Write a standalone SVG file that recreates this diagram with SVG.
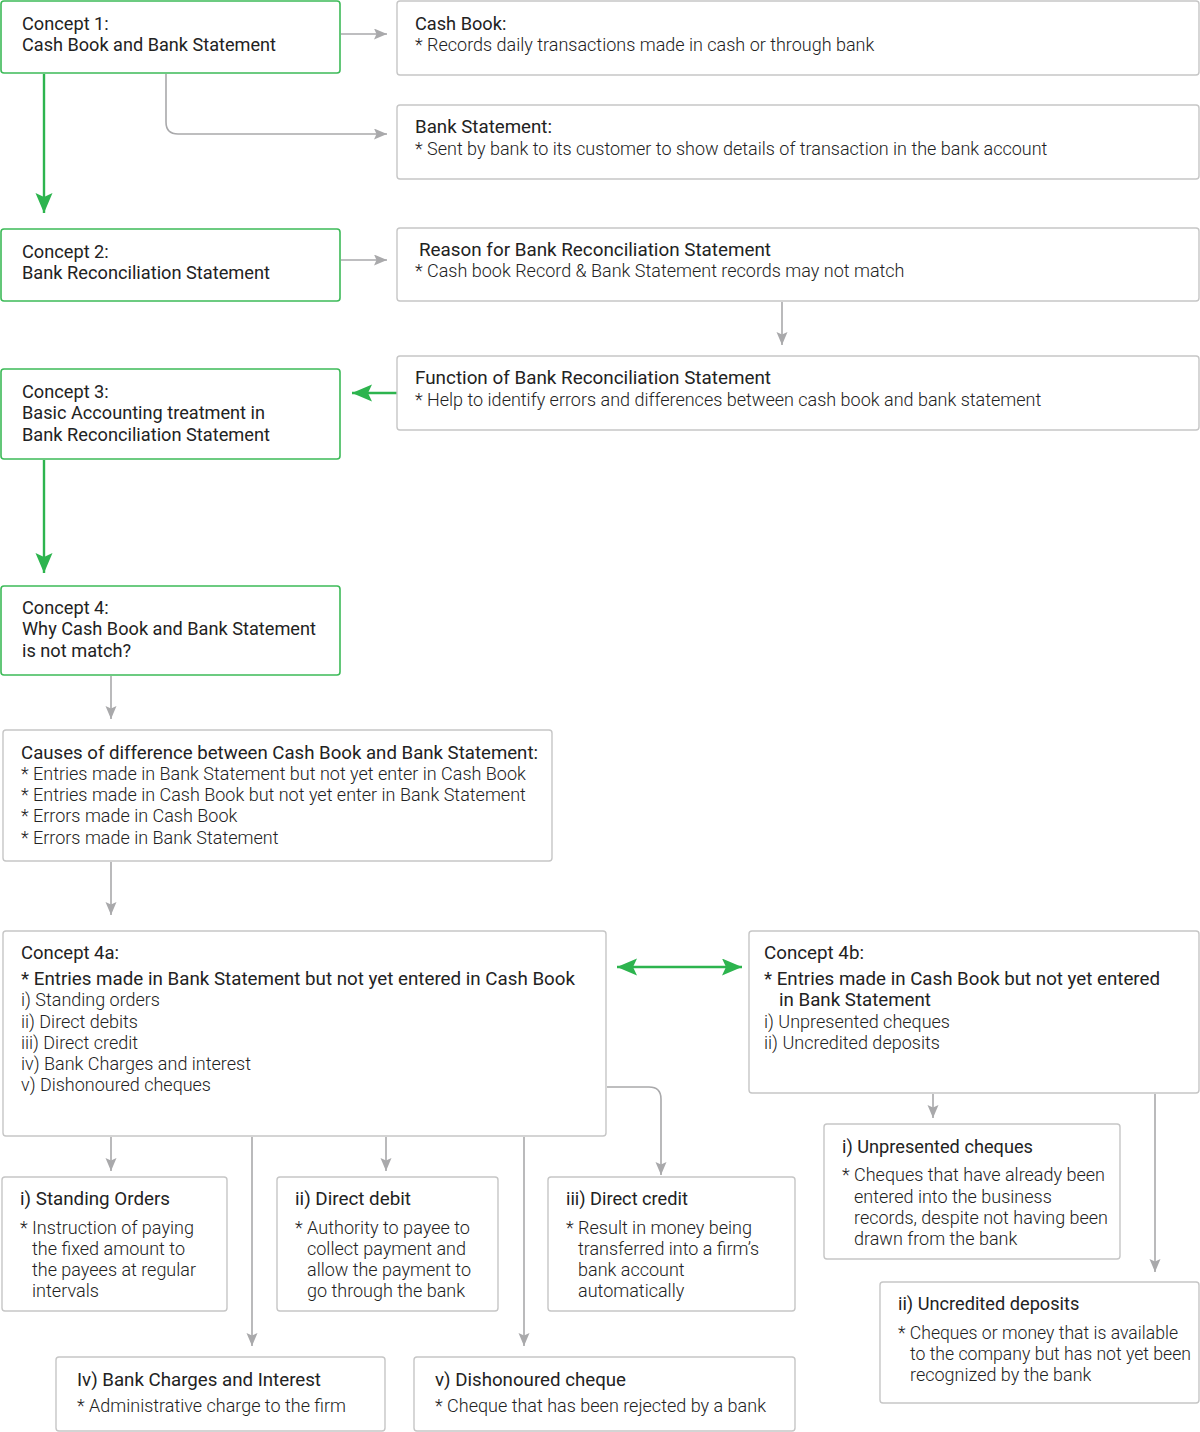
<svg xmlns="http://www.w3.org/2000/svg" width="1200" height="1432" viewBox="0 0 1200 1432">
<style>
text{font-family:Roboto,"Liberation Sans",sans-serif;font-size:18.2px;fill:#222}
.t2{font-size:18.8px}
.b{font-weight:300;font-size:18px}
.g{fill:#fff;stroke:#3dba58;stroke-width:1.6}
.n{fill:#fff;stroke:#c6c6c6;stroke-width:1.4}
.cg{fill:none;stroke:#a9a9ab;stroke-width:1.6}
.cn{fill:none;stroke:#2db44e;stroke-width:2.4}
</style>
<defs>
<marker id="ag" markerUnits="userSpaceOnUse" markerWidth="14" markerHeight="12" refX="13" refY="5.5" orient="auto" viewBox="0 0 14 12">
<path d="M0,0 L13,5.5 L0,11 L2.5,5.5 Z" fill="#a9a9ab"/>
</marker>
<marker id="an" markerUnits="userSpaceOnUse" markerWidth="21" markerHeight="18" refX="20" refY="8.5" orient="auto-start-reverse" viewBox="0 0 21 18">
<path d="M0,0 L20,8.5 L0,17 L4,8.5 Z" fill="#2db44e"/>
</marker>
</defs>

<g id="connectors">
<path class="cg" d="M341,34 H387" marker-end="url(#ag)"/>
<path class="cg" d="M166,74 V122 Q166,134 178,134 H387" marker-end="url(#ag)"/>
<path class="cn" d="M44,74 V213" marker-end="url(#an)"/>
<path class="cg" d="M341,260 H387" marker-end="url(#ag)"/>
<path class="cg" d="M782,302 V345" marker-end="url(#ag)"/>
<path class="cn" d="M397,393 H352" marker-end="url(#an)"/>
<path class="cn" d="M44,460 V573" marker-end="url(#an)"/>
<path class="cg" d="M111,676 V719" marker-end="url(#ag)"/>
<path class="cg" d="M111,862 V915" marker-end="url(#ag)"/>
<path class="cn" d="M617,967 H742" marker-start="url(#an)" marker-end="url(#an)"/>
<path class="cg" d="M111,1137 V1171" marker-end="url(#ag)"/>
<path class="cg" d="M252,1137 V1346" marker-end="url(#ag)"/>
<path class="cg" d="M386,1137 V1171" marker-end="url(#ag)"/>
<path class="cg" d="M524,1137 V1346" marker-end="url(#ag)"/>
<path class="cg" d="M607,1087 H649 Q661,1087 661,1099 V1175" marker-end="url(#ag)"/>
<path class="cg" d="M933,1094 V1118" marker-end="url(#ag)"/>
<path class="cg" d="M1155,1094 V1272" marker-end="url(#ag)"/>
</g>

<g id="concept1">
<rect class="g" x="1" y="1" width="339" height="72" rx="3"/>
<text x="22" y="30">Concept 1:</text>
<text x="22" y="51" textLength="254" lengthAdjust="spacingAndGlyphs">Cash Book and Bank Statement</text>
</g>
<g id="cashbook">
<rect class="n" x="397" y="1" width="802" height="74" rx="3"/>
<text x="415" y="30">Cash Book:</text>
<text class="b" x="415" y="51">* Records daily transactions made in cash or through bank</text>
</g>
<g id="bankstatement">
<rect class="n" x="397" y="105" width="802" height="74" rx="3"/>
<text x="415" y="133" textLength="137" lengthAdjust="spacingAndGlyphs">Bank Statement:</text>
<text class="b" x="415" y="155">* Sent by bank to its customer to show details of transaction in the bank account</text>
</g>
<g id="concept2">
<rect class="g" x="1" y="229" width="339" height="72" rx="3"/>
<text x="22" y="258">Concept 2:</text>
<text x="22" y="279" textLength="248" lengthAdjust="spacingAndGlyphs">Bank Reconciliation Statement</text>
</g>
<g id="reason">
<rect class="n" x="397" y="228" width="802" height="73" rx="3"/>
<text class="t2" x="419" y="256" textLength="352" lengthAdjust="spacingAndGlyphs">Reason for Bank Reconciliation Statement</text>
<text class="b" x="415" y="277">* Cash book Record &amp; Bank Statement records may not match</text>
</g>
<g id="function">
<rect class="n" x="397" y="356" width="802" height="74" rx="3"/>
<text class="t2" x="415" y="384" textLength="356" lengthAdjust="spacingAndGlyphs">Function of Bank Reconciliation Statement</text>
<text class="b" x="415" y="406">* Help to identify errors and differences between cash book and bank statement</text>
</g>
<g id="concept3">
<rect class="g" x="1" y="369" width="339" height="90" rx="3"/>
<text x="22" y="398">Concept 3:</text>
<text x="22" y="419" textLength="243" lengthAdjust="spacingAndGlyphs">Basic Accounting treatment in</text>
<text x="22" y="441" textLength="248" lengthAdjust="spacingAndGlyphs">Bank Reconciliation Statement</text>
</g>
<g id="concept4">
<rect class="g" x="1" y="586" width="339" height="89" rx="3"/>
<text x="22" y="614">Concept 4:</text>
<text x="22" y="635" textLength="294" lengthAdjust="spacingAndGlyphs">Why Cash Book and Bank Statement</text>
<text x="22" y="657">is not match?</text>
</g>
<g id="causes">
<rect class="n" x="3" y="730" width="549" height="131" rx="3"/>
<text x="21" y="759" textLength="517" lengthAdjust="spacingAndGlyphs">Causes of difference between Cash Book and Bank Statement:</text>
<text class="b" x="21" y="780">* Entries made in Bank Statement but not yet enter in Cash Book</text>
<text class="b" x="21" y="801">* Entries made in Cash Book but not yet enter in Bank Statement</text>
<text class="b" x="21" y="822">* Errors made in Cash Book</text>
<text class="b" x="21" y="844">* Errors made in Bank Statement</text>
</g>
<g id="concept4a">
<rect class="n" x="3" y="931" width="603" height="205" rx="3"/>
<text x="21" y="959" textLength="98" lengthAdjust="spacingAndGlyphs">Concept 4a:</text>
<text x="21" y="985" textLength="554" lengthAdjust="spacingAndGlyphs">* Entries made in Bank Statement but not yet entered in Cash Book</text>
<text class="b" x="21" y="1006" textLength="139" lengthAdjust="spacingAndGlyphs">i) Standing orders</text>
<text class="b" x="21" y="1028" textLength="117" lengthAdjust="spacingAndGlyphs">ii) Direct debits</text>
<text class="b" x="21" y="1049" textLength="117" lengthAdjust="spacingAndGlyphs">iii) Direct credit</text>
<text class="b" x="21" y="1070" textLength="230" lengthAdjust="spacingAndGlyphs">iv) Bank Charges and interest</text>
<text class="b" x="21" y="1091" textLength="190" lengthAdjust="spacingAndGlyphs">v) Dishonoured cheques</text>
</g>
<g id="concept4b">
<rect class="n" x="749" y="931" width="450" height="162" rx="3"/>
<text x="764" y="959" textLength="100" lengthAdjust="spacingAndGlyphs">Concept 4b:</text>
<text x="764" y="985" textLength="396" lengthAdjust="spacingAndGlyphs">* Entries made in Cash Book but not yet entered</text>
<text x="779" y="1006" textLength="152" lengthAdjust="spacingAndGlyphs">in Bank Statement</text>
<text class="b" x="764" y="1028" textLength="186" lengthAdjust="spacingAndGlyphs">i) Unpresented cheques</text>
<text class="b" x="764" y="1049" textLength="176" lengthAdjust="spacingAndGlyphs">ii) Uncredited deposits</text>
</g>
<g id="standing">
<rect class="n" x="2" y="1177" width="225" height="134" rx="3"/>
<text x="20" y="1205" textLength="150" lengthAdjust="spacingAndGlyphs">i) Standing Orders</text>
<text class="b" x="20" y="1234" textLength="174" lengthAdjust="spacingAndGlyphs">* Instruction of paying</text>
<text class="b" x="32" y="1255" textLength="153" lengthAdjust="spacingAndGlyphs">the fixed amount to</text>
<text class="b" x="32" y="1276" textLength="164" lengthAdjust="spacingAndGlyphs">the payees at regular</text>
<text class="b" x="32" y="1297" textLength="67" lengthAdjust="spacingAndGlyphs">intervals</text>
</g>
<g id="directdebit">
<rect class="n" x="277" y="1177" width="221" height="134" rx="3"/>
<text x="295" y="1205" textLength="116" lengthAdjust="spacingAndGlyphs">ii) Direct debit</text>
<text class="b" x="295" y="1234" textLength="175" lengthAdjust="spacingAndGlyphs">* Authority to payee to</text>
<text class="b" x="307" y="1255" textLength="159" lengthAdjust="spacingAndGlyphs">collect payment and</text>
<text class="b" x="307" y="1276" textLength="164" lengthAdjust="spacingAndGlyphs">allow the payment to</text>
<text class="b" x="307" y="1297" textLength="158" lengthAdjust="spacingAndGlyphs">go through the bank</text>
</g>
<g id="directcredit">
<rect class="n" x="548" y="1177" width="247" height="134" rx="3"/>
<text x="566" y="1205">iii) Direct credit</text>
<text class="b" x="566" y="1234" textLength="186" lengthAdjust="spacingAndGlyphs">* Result in money being</text>
<text class="b" x="578" y="1255" textLength="181" lengthAdjust="spacingAndGlyphs">transferred into a firm’s</text>
<text class="b" x="578" y="1276">bank account</text>
<text class="b" x="578" y="1297">automatically</text>
</g>
<g id="bankcharges">
<rect class="n" x="56" y="1357" width="329" height="74" rx="3"/>
<text x="77" y="1386" textLength="244" lengthAdjust="spacingAndGlyphs">Iv) Bank Charges and Interest</text>
<text class="b" x="77" y="1412" textLength="269" lengthAdjust="spacingAndGlyphs">* Administrative charge to the firm</text>
</g>
<g id="dishonoured">
<rect class="n" x="414" y="1357" width="381" height="74" rx="3"/>
<text x="435" y="1386" textLength="191" lengthAdjust="spacingAndGlyphs">v) Dishonoured cheque</text>
<text class="b" x="435" y="1412" textLength="331" lengthAdjust="spacingAndGlyphs">* Cheque that has been rejected by a bank</text>
</g>
<g id="unpresented">
<rect class="n" x="824" y="1124" width="296" height="135" rx="3"/>
<text x="842" y="1153">i) Unpresented cheques</text>
<text class="b" x="842" y="1181" textLength="263" lengthAdjust="spacingAndGlyphs">* Cheques that have already been</text>
<text class="b" x="854" y="1203">entered into the business</text>
<text class="b" x="854" y="1224" textLength="254" lengthAdjust="spacingAndGlyphs">records, despite not having been</text>
<text class="b" x="854" y="1245">drawn from the bank</text>
</g>
<g id="uncredited">
<rect class="n" x="880" y="1282" width="319" height="121" rx="3"/>
<text x="898" y="1310">ii) Uncredited deposits</text>
<text class="b" x="898" y="1339" textLength="280" lengthAdjust="spacingAndGlyphs">* Cheques or money that is available</text>
<text class="b" x="910" y="1360" textLength="281" lengthAdjust="spacingAndGlyphs">to the company but has not yet been</text>
<text class="b" x="910" y="1381">recognized by the bank</text>
</g>
</svg>
